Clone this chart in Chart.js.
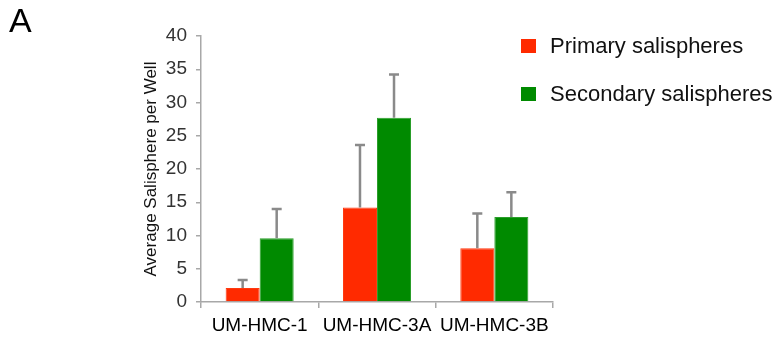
<!DOCTYPE html>
<html><head><meta charset="utf-8">
<script src="https://cdn.jsdelivr.net/npm/chart.js@4/dist/chart.umd.min.js"></script>
<style>
html,body{margin:0;padding:0;background:#fff;}
#wrap{position:relative;width:778px;height:339px;overflow:hidden;font-family:"Liberation Sans",Arial,sans-serif;}
#panel{position:absolute;left:9px;top:1px;font-size:34px;color:#000;}
.leg{position:absolute;left:521px;font-size:22px;color:#111;white-space:nowrap;}
.leg span.box{position:absolute;left:0;width:15px;height:14px;}
.leg span.txt{position:absolute;left:29px;line-height:26px;}
</style></head>
<body>
<div id="wrap">
<canvas id="c" width="778" height="339"></canvas>
<div id="panel">A</div>
<div id="legend"></div>
</div>
<script>
const categories = ["UM-HMC-1", "UM-HMC-3A", "UM-HMC-3B"];
const seriesNames = ["Primary salispheres", "Secondary salispheres"];
const primaryValues = [2.1, 14.2, 8.1];
const secondaryValues = [9.6, 27.7, 12.8];
const primaryErrors = [1.2, 9.4, 5.2];
const secondaryErrors = [4.4, 6.5, 3.7];
const yTicks = [0, 5, 10, 15, 20, 25, 30, 35, 40];

const colors = ["#ff2a00", "#008a00"];
const borders = ["#ff3a10", "#2a9e2a"];
const errors = [primaryErrors, secondaryErrors];

const errorBars = {
  id: 'errorBars',
  afterDatasetsDraw(chart) {
    const ctx = chart.ctx;
    const ys = chart.scales.y;
    chart.data.datasets.forEach((ds, di) => {
      const meta = chart.getDatasetMeta(di);
      meta.data.forEach((bar, i) => {
        const top = ys.getPixelForValue(ds.data[i] + errors[di][i]);
        ctx.save();
        ctx.strokeStyle = '#8a8a8a';
        ctx.lineWidth = 2.5;
        ctx.beginPath();
        ctx.moveTo(bar.x, bar.y);
        ctx.lineTo(bar.x, top);
        ctx.moveTo(bar.x - 5, top);
        ctx.lineTo(bar.x + 5, top);
        ctx.stroke();
        ctx.restore();
      });
    });
  }
};

new Chart(document.getElementById('c'), {
  type: 'bar',
  data: {
    labels: categories,
    datasets: [
      {label: seriesNames[0], data: primaryValues, backgroundColor: colors[0], borderColor: borders[0], borderWidth: 1,
       categoryPercentage: 0.58, barPercentage: 1.0},
      {label: seriesNames[1], data: secondaryValues, backgroundColor: colors[1], borderColor: borders[1], borderWidth: 1,
       categoryPercentage: 0.58, barPercentage: 1.0}
    ]
  },
  options: {
    responsive: false,
    animation: false,
    layout: {padding: {left: 134, right: 225, top: 36, bottom: 0}},
    plugins: {legend: {display: false}, tooltip: {enabled: false}},
    scales: {
      x: {
        grid: {display: true, drawOnChartArea: false, drawTicks: true, tickLength: 6, color: '#a8a8a8', lineWidth: 1.5, offset: true},
        border: {color: '#a8a8a8', width: 1.5},
        ticks: {color: '#000', font: {family: '"Liberation Sans", Arial', size: 19}, padding: 6, maxRotation: 0},
        afterFit(s) { s.height = 37; }
      },
      y: {
        min: 0, max: 40,
        afterBuildTicks(s) { s.ticks = yTicks.map(v => ({value: v})); },
        grid: {display: true, drawOnChartArea: false, drawTicks: true, tickLength: 5, color: '#a8a8a8', lineWidth: 1.5},
        border: {color: '#a8a8a8', width: 1.5},
        ticks: {color: '#333', font: {family: '"Liberation Sans", Arial', size: 19}, padding: 9},
        title: {display: true, text: 'Average Salisphere per Well', color: '#111',
                font: {family: '"Liberation Sans", Arial', size: 17}, padding: {top: 7, bottom: 0}},
        afterFit(s) { s.width = 67; }
      }
    }
  },
  plugins: [errorBars]
});

const leg = document.getElementById('legend');
const legTops = [39, 87];
seriesNames.forEach((n, i) => {
  const d = document.createElement('div');
  d.className = 'leg';
  d.style.top = legTops[i] + 'px';
  d.innerHTML = '<span class="box" style="background:' + colors[i] + '"></span><span class="txt"></span>';
  d.querySelector('.txt').textContent = n;
  d.querySelector('.txt').style.top = '-6px';
  leg.appendChild(d);
});
</script>
</body></html>
